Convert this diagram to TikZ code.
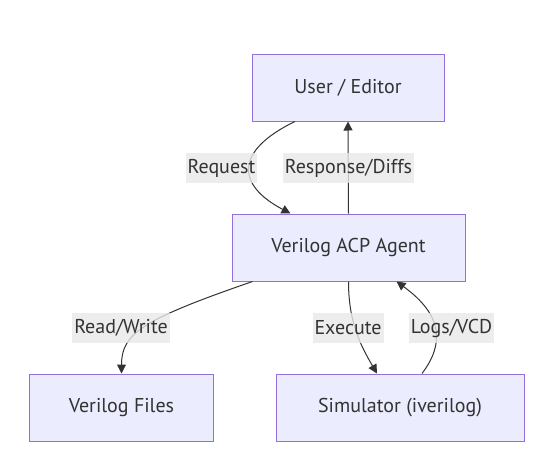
\documentclass[tikz,border=0pt]{standalone}
\usepackage{fontspec}
\setmainfont{PT Sans}
\usetikzlibrary{arrows.meta}
\definecolor{boxfill}{HTML}{ECECFF}
\definecolor{boxline}{HTML}{9370DB}
\definecolor{edgecol}{HTML}{333333}
\definecolor{labbg}{HTML}{E8E8E8}
\tikzset{
  box/.style={draw=boxline, fill=boxfill, line width=1pt, minimum height=67pt, inner sep=0pt, text=edgecol, font=\fontsize{20}{24}\selectfont},
  elabel/.style={fill=labbg, fill opacity=0.8, text opacity=1, text=edgecol, inner sep=2pt, minimum height=30pt, font=\fontsize{20}{24}\selectfont},
  conn/.style={draw=edgecol, line width=1pt, -{Triangle[length=9pt,width=9pt]}}
}
\begin{document}
\begin{tikzpicture}[x=1pt,y=1pt]
\useasboundingbox (0,0) rectangle (538,-467);
\node[box, minimum width=192pt] (user) at (348,-87.5) {User / Editor};
\node[box, minimum width=233pt] (agent) at (348.5,-247.5) {Verilog ACP Agent};
\node[box, minimum width=184.5pt] (files) at (121.5,-407.5) {Verilog Files};
\node[box, minimum width=248pt] (sim) at (400,-407.5) {Simulator (iverilog)};
% edges
\draw[conn] ([xshift=-53pt]user.south) .. controls +(-60,-29) and +(-55,29) .. ([xshift=-58pt]agent.north);
\draw[conn] (agent.north) -- (user.south);
\draw[conn] ([xshift=-96pt]agent.south) .. controls +(-110,-38) and +(0,40) .. (files.north);
\draw[conn] (agent.south) .. controls +(0,-40) and +(-17,29) .. ([xshift=-23pt]sim.north);
\draw[conn] ([xshift=22pt]sim.north) .. controls +(22,29) and +(47,-34) .. ([xshift=48pt]agent.south);
% labels
\node[elabel] (treq) at (221.5,-168) {Request};
\node[elabel] (tresp) at (348.5,-168) {Response/Diffs};
\node[elabel] (trw) at (121,-328) {Read/Write};
\node[elabel] (texe) at (348,-328) {Execute};
\node[elabel] (tlog) at (451.5,-328) {Logs/VCD};
\end{tikzpicture}
\end{document}
